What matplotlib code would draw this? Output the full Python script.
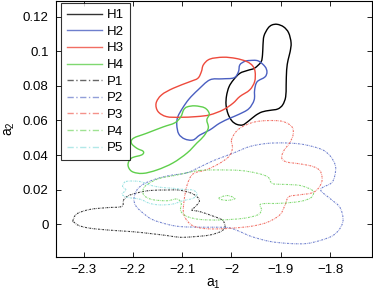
import matplotlib
matplotlib.use("Agg")
import matplotlib.pyplot as plt
import numpy as np
from matplotlib.lines import Line2D
from matplotlib.path import Path
from matplotlib.patches import PathPatch

plt.rcParams['font.family'] = ['Liberation Sans', 'DejaVu Sans']
plt.rcParams['mathtext.default'] = 'regular'

# ---- data: closed density contours (a1, a2) ----
H1_a1 = [-1.907, -1.894, -1.884, -1.879, -1.881, -1.885, -1.888, -1.889, -1.890, -1.896, -1.906,
         -1.922, -1.938, -1.951, -1.965, -1.977, -1.989, -1.999, -2.007, -2.011, -2.010, -2.005,
         -1.996, -1.983, -1.967, -1.953, -1.940, -1.937, -1.936, -1.934, -1.926, -1.918]
H1_a2 = [0.1155, 0.1140, 0.1106, 0.1048, 0.0996, 0.0950, 0.0892, 0.0805, 0.0736, 0.0690, 0.0666,
         0.0658, 0.0649, 0.0629, 0.0597, 0.0574, 0.0577, 0.0597, 0.0638, 0.0690, 0.0742, 0.0794,
         0.0834, 0.0872, 0.0889, 0.0902, 0.0938, 0.0979, 0.1036, 0.1088, 0.1132, 0.1151]

H2_a1 = [-1.963, -1.946, -1.932, -1.928, -1.932, -1.948, -1.953, -1.954, -1.965, -1.985, -2.003,
         -2.024, -2.044, -2.064, -2.078, -2.095, -2.107, -2.111, -2.109, -2.099, -2.086, -2.068,
         -2.044, -2.019, -1.995, -1.986, -1.983, -1.973]
H2_a2 = [0.0946, 0.0944, 0.0911, 0.0880, 0.0851, 0.0823, 0.0776, 0.0718, 0.0667, 0.0635, 0.0613,
         0.0584, 0.0545, 0.0516, 0.0487, 0.0493, 0.0522, 0.0574, 0.0620, 0.0672, 0.0724, 0.0776,
         0.0834, 0.0840, 0.0846, 0.0880, 0.0921, 0.0941]

H3_a1 = [-2.017, -1.991, -1.969, -1.957, -1.952, -1.953, -1.963, -1.983, -1.997, -2.017, -2.044,
         -2.071, -2.105, -2.132, -2.149, -2.153, -2.142, -2.118, -2.084, -2.068, -2.061, -2.057, -2.044]
H3_a2 = [0.0965, 0.0958, 0.0940, 0.0915, 0.0880, 0.0824, 0.0776, 0.0738, 0.0699, 0.0661, 0.0632,
         0.0622, 0.0618, 0.0622, 0.0651, 0.0699, 0.0747, 0.0786, 0.0824, 0.0844, 0.0882, 0.0921, 0.0954]

H4_a1 = [-2.090, -2.074, -2.054, -2.045, -2.050, -2.047, -2.056, -2.070, -2.090, -2.119, -2.151,
         -2.180, -2.202, -2.210, -2.203, -2.182, -2.179, -2.192, -2.203, -2.199, -2.172, -2.139,
         -2.115, -2.103, -2.097]
H4_a2 = [0.0678, 0.0684, 0.0672, 0.0638, 0.0603, 0.0557, 0.0510, 0.0470, 0.0412, 0.0354, 0.0314,
         0.0294, 0.0305, 0.0343, 0.0382, 0.0401, 0.0421, 0.0439, 0.0468, 0.0497, 0.0526, 0.0562,
         0.0586, 0.0620, 0.0661]

P1_a1 = [-2.322, -2.314, -2.287, -2.253, -2.223, -2.219, -2.210, -2.192, -2.166, -2.131, -2.105,
         -2.078, -2.065, -2.074, -2.081, -2.064, -2.038, -2.019, -2.013, -2.020, -2.044, -2.078,
         -2.105, -2.131, -2.166, -2.200, -2.237, -2.267, -2.291, -2.310, -2.320]
P1_a2 = [0.0019, 0.0060, 0.0086, 0.0096, 0.0103, 0.0140, 0.0164, 0.0181, 0.0195, 0.0198, 0.0197,
         0.0175, 0.0138, 0.0100, 0.0083, 0.0073, 0.0048, 0.0025, -0.0010, -0.0039, -0.0062, -0.0072,
         -0.0075, -0.0065, -0.0053, -0.0043, -0.0036, -0.0029, -0.0021, -0.0007, 0.0013]

P2_a1 = [-2.091, -2.064, -2.038, -2.017, -1.993, -1.963, -1.928, -1.892, -1.861, -1.835, -1.813,
         -1.798, -1.789, -1.790, -1.797, -1.819, -1.800, -1.782, -1.775, -1.774, -1.782, -1.796,
         -1.817, -1.847, -1.882, -1.922, -1.959, -1.983, -2.003, -2.024, -2.050, -2.078, -2.105,
         -2.129, -2.161, -2.182, -2.194, -2.198, -2.192, -2.178, -2.153, -2.125]
P2_a2 = [0.0297, 0.0331, 0.0366, 0.0389, 0.0415, 0.0449, 0.0467, 0.0470, 0.0464, 0.0449, 0.0427,
         0.0389, 0.0337, 0.0285, 0.0239, 0.0201, 0.0149, 0.0106, 0.0060, 0.0013, -0.0033, -0.0068,
         -0.0091, -0.0111, -0.0111, -0.0099, -0.0071, -0.0042, -0.0021, -0.0017, -0.0017, -0.0016,
         -0.0013, -0.0001, 0.0028, 0.0071, 0.0106, 0.0146, 0.0198, 0.0233, 0.0262, 0.0282]

P3_a1 = [-2.000, -1.991, -1.977, -1.953, -1.926, -1.896, -1.877, -1.875, -1.882, -1.894, -1.898,
         -1.888, -1.861, -1.835, -1.820, -1.816, -1.823, -1.837, -1.865, -1.884, -1.892, -1.902,
         -1.926, -1.957, -1.993, -2.034, -2.064, -2.084, -2.097, -2.096, -2.090, -2.078, -2.052,
         -2.026, -2.005, -1.998]
P3_a2 = [0.0487, 0.0534, 0.0565, 0.0591, 0.0599, 0.0594, 0.0562, 0.0516, 0.0470, 0.0424, 0.0383,
         0.0360, 0.0349, 0.0334, 0.0308, 0.0256, 0.0210, 0.0181, 0.0169, 0.0158, 0.0106, 0.0054,
         0.0013, -0.0010, -0.0021, -0.0027, -0.0021, 0.0002, 0.0060, 0.0140, 0.0227, 0.0291, 0.0314,
         0.0349, 0.0392, 0.0441]

P4_a1 = [-2.064, -2.030, -1.983, -1.948, -1.926, -1.918, -1.902, -1.867, -1.847, -1.834, -1.838,
         -1.861, -1.902, -1.940, -1.939, -1.947, -1.977, -2.024, -2.064, -2.090, -2.103, -2.102,
         -2.111, -2.131, -2.161, -2.178, -2.178, -2.166, -2.145, -2.115, -2.088]
P4_a2 = [0.0311, 0.0314, 0.0311, 0.0295, 0.0273, 0.0237, 0.0231, 0.0227, 0.0212, 0.0190, 0.0155,
         0.0132, 0.0121, 0.0117, 0.0083, 0.0054, 0.0034, 0.0025, 0.0028, 0.0045, 0.0077, 0.0123,
         0.0146, 0.0136, 0.0143, 0.0169, 0.0210, 0.0239, 0.0266, 0.0282, 0.0299]
P4b_a1 = [-2.026, -2.009, -1.993, -2.009]
P4b_a2 = [0.0149, 0.0166, 0.0149, 0.0138]

P5_a1 = [-2.214, -2.186, -2.166, -2.145, -2.119, -2.097, -2.078, -2.070, -2.078, -2.099, -2.119,
         -2.145, -2.166, -2.186, -2.212, -2.222, -2.214, -2.221]
P5_a2 = [0.0247, 0.0247, 0.0227, 0.0214, 0.0208, 0.0201, 0.0197, 0.0175, 0.0150, 0.0136, 0.0117,
         0.0112, 0.0121, 0.0145, 0.0156, 0.0175, 0.0198, 0.0218]

labels = ['H1', 'H2', 'H3', 'H4', 'P1', 'P2', 'P3', 'P4', 'P5']
xticks = [-2.3, -2.2, -2.1, -2.0, -1.9, -1.8]
xticklabels = ['\u22122.3', '\u22122.2', '\u22122.1', '\u22122', '\u22121.9', '\u22121.8']
yticks = [0, 0.02, 0.04, 0.06, 0.08, 0.10, 0.12]
yticklabels = ['0', '0.02', '0.04', '0.06', '0.08', '0.1', '0.12']

colors = {'H1': '#000000', 'H2': '#4a5fc1', 'H3': '#ee4a3c', 'H4': '#5fcf4c',
          'P1': '#000000', 'P2': '#4a5fc1', 'P3': '#ee4a3c', 'P4': '#5fcf4c', 'P5': '#7fdada'}

curves = {'H1': [(H1_a1, H1_a2)], 'H2': [(H2_a1, H2_a2)], 'H3': [(H3_a1, H3_a2)],
          'H4': [(H4_a1, H4_a2)], 'P1': [(P1_a1, P1_a2)], 'P2': [(P2_a1, P2_a2)],
          'P3': [(P3_a1, P3_a2)], 'P4': [(P4_a1, P4_a2), (P4b_a1, P4b_a2)],
          'P5': [(P5_a1, P5_a2)]}


def smooth_closed_path(xs, ys):
    """Closed Bezier path through the traced contour points (Catmull-Rom handles)."""
    p = np.column_stack([xs, ys]).astype(float)
    n = len(p)
    verts = [p[0]]
    codes = [Path.MOVETO]
    for i in range(n):
        p0, p1, p2, p3 = p[i - 1], p[i], p[(i + 1) % n], p[(i + 2) % n]
        c1 = p1 + (p2 - p0) / 6.0
        c2 = p2 - (p3 - p1) / 6.0
        verts += [c1, c2, p2]
        codes += [Path.CURVE4] * 3
    return Path(np.array(verts), codes)


fig = plt.figure(figsize=(3.73, 2.93), dpi=100)
ax = fig.add_axes([0.149, 0.124, 0.848, 0.871])

for lab in labels:
    solid = lab.startswith('H')
    for xs, ys in curves[lab]:
        path = smooth_closed_path(xs, ys)
        if solid:
            patch = PathPatch(path, fill=False, edgecolor=colors[lab], lw=1.0,
                              joinstyle='round')
        else:
            patch = PathPatch(path, fill=False, edgecolor=colors[lab], lw=0.8, alpha=0.8,
                              linestyle=(0, (1.6, 0.9, 0.5, 0.9)))
        ax.add_patch(patch)

handles = []
for lab in labels:
    if lab.startswith('H'):
        handles.append(Line2D([], [], color=colors[lab], lw=1.0, alpha=0.8))
    else:
        handles.append(Line2D([], [], color=colors[lab], lw=1.0, alpha=0.6,
                              linestyle=(0, (4.5, 1.8, 1.0, 1.8))))
leg = ax.legend(handles, labels, loc='upper left', bbox_to_anchor=(0.018, 0.994),
                fontsize=9.5, frameon=True, fancybox=False, borderaxespad=0,
                handlelength=2.6, handletextpad=0.4, labelspacing=0.335,
                borderpad=0.45)
leg.get_frame().set_edgecolor('black')
leg.get_frame().set_linewidth(0.8)

ax.set_xlim(-2.357, -1.715)
ax.set_ylim(-0.0187, 0.1287)
ax.set_xticks(xticks)
ax.set_xticklabels(xticklabels)
ax.set_yticks(yticks)
ax.set_yticklabels(yticklabels)
ax.tick_params(direction='in', length=3.5, width=0.6, top=True, right=True,
               labelsize=9.5, pad=5)
for s in ax.spines.values():
    s.set_linewidth(0.8)
ax.set_xlabel('a$_1$', fontsize=10, labelpad=1)
ax.set_ylabel('a$_2$', fontsize=10, labelpad=4)

fig.savefig('out.png', dpi=100)
